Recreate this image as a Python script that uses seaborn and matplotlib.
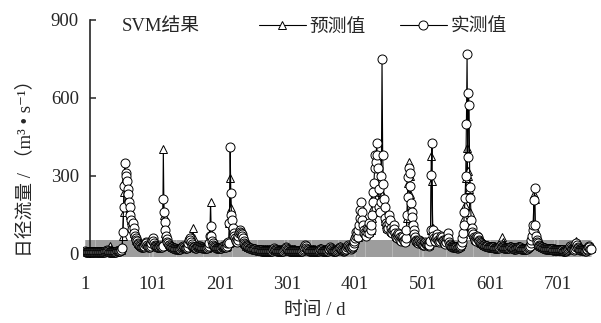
import numpy as np
import matplotlib
matplotlib.use("Agg")
import matplotlib.pyplot as plt
import seaborn as sns

# ---- data (daily runoff, m3/s) ----
observed = [
    10,9,9,8,8,8,7,7,7,8,8,9,9,8,8,7,7,7,7,8,8,8,7,7,7,
    7,7,8,8,9,10,12,14,12,10,9,9,8,8,8,9,9,8,8,8,8,9,10,11,12,
    13,12,12,14,15,22,85,180,260,350,310,300,280,250,230,200,180,150,130,110,95,120,100,80,70,
    60,52,48,42,38,35,32,30,28,27,26,25,26,30,38,45,40,34,30,28,27,26,30,40,55,
    62,50,42,36,32,30,28,27,26,25,27,30,28,26,25,30,212,160,123,92,70,56,46,40,36,
    33,30,28,27,25,24,23,22,21,20,20,19,19,18,18,18,20,22,25,28,30,28,25,23,22,
    21,22,28,40,52,60,55,45,38,32,28,26,25,24,24,23,25,28,30,32,30,28,26,25,24,
    23,22,22,22,21,21,22,25,30,40,70,108,70,50,40,35,30,27,25,24,23,22,22,22,22,
    22,23,24,25,28,30,32,28,26,25,30,40,45,40,120,410,235,150,130,100,80,70,60,52,48,
    45,55,70,80,90,85,80,75,70,60,50,42,38,34,31,29,27,25,24,23,22,21,20,19,18,
    18,17,17,16,16,15,15,15,14,14,14,13,13,13,13,12,12,12,12,12,12,11,11,11,11,
    11,11,12,14,18,22,20,16,14,13,12,12,11,11,11,10,10,10,11,13,16,20,25,22,18,
    15,14,13,12,12,12,11,11,11,11,11,10,10,10,10,10,10,10,10,11,11,11,12,14,20,
    28,35,30,22,18,15,14,13,12,12,12,11,11,11,11,11,10,10,10,10,11,12,15,20,18,
    15,13,12,12,11,11,11,11,11,11,12,14,18,25,22,17,14,13,12,12,12,12,13,14,16,
    18,22,28,24,18,15,14,13,13,14,15,17,20,25,30,35,30,25,22,20,22,26,32,40,50,
    60,70,85,75,65,90,110,140,170,200,160,130,110,90,80,75,70,85,100,95,80,120,100,90,110,
    150,200,240,273,330,380,355,427,380,330,250,180,160,200,300,750,380,270,210,180,140,120,110,95,100,
    120,150,130,100,85,80,90,110,95,80,70,65,60,70,80,75,65,55,50,60,70,65,55,48,45,
    60,90,150,220,295,330,310,260,195,160,142,110,90,75,65,55,50,45,42,48,55,50,45,40,38,
    36,35,34,40,45,42,38,35,33,32,35,50,92,305,427,92,70,60,55,50,60,75,65,55,48,
    45,50,60,70,65,55,48,44,40,38,45,60,80,60,45,38,34,31,29,28,27,27,26,26,25,
    25,24,24,25,26,28,30,35,45,60,80,110,160,215,300,500,770,373,620,573,258,215,130,100,85,
    75,65,60,55,50,60,70,65,55,48,45,42,40,38,36,34,33,32,31,30,30,29,28,28,27,
    27,26,26,25,25,25,24,24,24,24,23,23,23,24,26,30,35,32,28,25,24,23,22,22,22,
    21,21,21,22,25,28,26,24,22,21,20,20,20,20,21,22,24,26,28,25,22,20,19,19,18,
    18,18,18,18,19,20,22,25,28,32,40,55,70,90,112,207,254,112,70,55,45,40,35,32,30,
    28,26,25,24,23,22,21,20,20,19,19,18,18,18,17,17,17,17,16,16,16,16,15,15,15,
    15,15,14,14,14,14,14,14,13,13,13,13,13,14,15,17,20,24,28,30,28,24,20,18,17,
    16,18,25,40,35,28,22,19,17,16,15,15,14,14,14,14,13,13,14,18,25,30,26,20,17,
]

predicted = [
    12,12,11,11,11,10,10,10,10,10,11,11,11,11,10,10,10,10,10,10,10,10,10,10,10,
    10,10,10,11,11,12,13,14,15,16,18,22,30,18,14,12,11,11,11,11,11,11,12,12,13,
    14,14,15,16,18,25,70,160,240,290,300,280,260,240,220,200,170,150,130,110,100,105,95,80,70,
    62,55,50,45,41,38,35,33,31,30,29,29,30,33,38,42,40,36,33,31,30,30,33,40,50,
    55,50,44,39,35,33,31,30,29,29,30,32,31,30,29,35,405,150,110,80,65,54,46,41,37,
    34,32,30,29,28,27,26,25,24,24,23,23,23,22,22,22,24,26,28,30,31,29,27,25,24,
    24,25,28,32,38,45,50,55,60,70,100,60,45,36,30,28,27,27,29,31,32,31,29,28,27,
    26,25,25,25,24,24,25,27,30,40,80,200,80,55,42,36,32,29,27,26,25,25,25,25,25,
    25,26,27,28,30,32,33,30,28,27,30,38,42,40,120,292,177,140,110,90,75,65,58,52,48,
    46,52,62,72,80,78,74,70,65,57,49,42,38,35,32,30,28,27,26,25,24,23,23,22,22,
    21,21,21,20,20,20,20,19,19,19,19,19,18,18,18,18,18,18,18,18,18,17,17,17,17,
    17,17,18,20,22,24,22,20,19,18,18,17,17,17,17,17,17,17,18,19,21,24,26,24,21,
    20,19,18,18,18,17,17,17,17,17,17,17,16,16,16,16,16,16,16,17,17,17,18,20,24,
    30,35,32,26,22,20,19,18,18,17,17,17,17,17,17,17,16,16,16,16,17,18,20,23,22,
    20,18,18,17,17,17,17,17,17,17,18,20,23,28,26,22,20,19,18,18,18,18,19,20,21,
    23,26,30,28,24,21,20,19,19,20,21,22,25,28,32,36,33,29,27,25,27,30,35,42,50,
    58,66,78,72,65,85,100,125,150,175,150,125,108,92,84,80,76,88,100,97,85,115,100,92,105,
    140,180,220,250,220,230,210,240,220,200,190,170,160,190,240,230,200,180,160,140,125,115,105,98,100,
    115,140,125,100,88,84,92,105,95,84,76,70,66,72,80,76,68,60,56,62,70,66,58,52,49,
    60,90,140,230,273,355,300,230,180,150,130,105,88,75,66,58,53,49,46,50,55,52,48,44,42,
    40,39,38,42,46,44,41,38,36,35,37,48,90,375,280,100,72,62,56,52,60,72,65,56,50,
    47,51,58,66,62,55,50,46,43,41,45,56,70,56,45,40,37,35,33,32,31,31,30,30,30,
    30,29,29,30,31,32,34,38,46,58,75,100,140,190,227,292,407,300,320,250,162,130,110,95,85,
    76,68,62,57,53,60,68,64,56,50,47,44,42,40,38,37,36,35,34,33,33,32,32,31,31,
    31,30,30,30,29,29,29,29,28,28,28,28,28,29,31,34,40,50,65,45,35,30,28,27,27,
    26,26,26,27,29,31,30,28,27,26,25,25,25,25,26,27,28,30,31,29,27,25,24,24,23,
    23,23,23,23,24,25,27,29,32,35,42,55,68,85,100,230,210,100,68,55,46,41,37,34,32,
    30,29,28,27,26,25,25,24,24,23,23,23,22,22,22,22,22,21,21,21,21,21,20,20,20,
    20,20,20,19,19,19,19,19,19,19,19,19,19,20,21,22,24,27,30,32,30,27,24,22,21,
    22,30,50,38,30,26,23,22,21,20,20,19,19,19,19,19,19,19,20,22,27,30,28,24,21,
]

x_ticks = [1, 101, 201, 301, 401, 501, 601, 701]
y_ticks = [0, 300, 600, 900]
series_names = ["预测值", "实测值"]

n = min(len(observed), len(predicted))
days = np.arange(1, n + 1)

sns.set_style("ticks")
plt.rcParams["font.family"] = ["Liberation Serif", "Noto Sans CJK SC", "DejaVu Serif"]

W, H = 601, 323
fig = plt.figure(figsize=(W / 100, H / 100), dpi=100)
ax = fig.add_axes([83 / W, 66 / H, 513 / W, 237 / H])

common = dict(ax=ax, color="black", linewidth=0.8, markerfacecolor="white",
              markeredgecolor="black", markeredgewidth=0.7)
sns.lineplot(x=days, y=predicted[:n], marker="^", markersize=5.5,
             label=series_names[0], zorder=3, **common)
sns.lineplot(x=days, y=observed[:n], marker="o", markersize=6.5,
             label=series_names[1], zorder=4, **common)

ax.set_xlim(-2, 758)
ax.set_ylim(-12, 900)
ax.spines["left"].set_position(("data", 8.4))
ax.spines["left"].set_linewidth(1.2)
for s in ["top", "right", "bottom"]:
    ax.spines[s].set_visible(False)

ax.set_yticks(y_ticks)
ax.tick_params(axis="y", direction="in", length=4, width=1.1, pad=8, labelsize=13.5)
ax.set_xticks(x_ticks)
ax.set_xticklabels([str(t) for t in x_ticks])
ax.tick_params(axis="x", which="major", length=0, pad=14, labelsize=13.5)
ax.set_xticks(days, minor=True)
ax.tick_params(axis="x", which="minor", direction="in", length=12, width=0.35, color="#555555")
ax.set_xlabel("")
ax.set_ylabel("")

handles, labels = ax.get_legend_handles_labels()
if ax.get_legend() is not None:
    ax.get_legend().remove()
fig.legend(handles, labels, loc="center left", bbox_to_anchor=(259 / W, 1 - 27 / H),
           ncol=2, frameon=False, handlelength=2.5, handletextpad=0.2,
           columnspacing=1.8, borderpad=0, borderaxespad=0, fontsize=13.5)

fig.text(122 / W, 1 - 27 / H, "SVM结果", fontsize=13.5, va="center", ha="left")
fig.text(315 / W, 1 - 311 / H, "时间 / d", fontsize=13.5, va="center", ha="center")
fig.text(25 / W, 1 - 164 / H, "日径流量 / （m³ • s⁻¹）", fontsize=13.5, va="center",
         ha="center", rotation=90)

fig.savefig("out.png", dpi=100)
